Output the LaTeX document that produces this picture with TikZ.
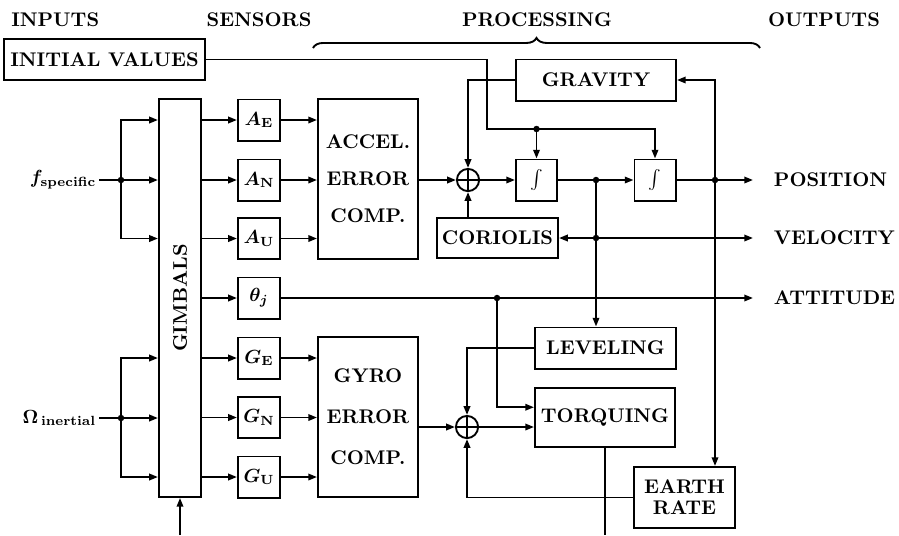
\documentclass[tikz,border=0pt]{standalone}
\usepackage{amsmath}
\usepackage{bm}
\usetikzlibrary{arrows.meta, decorations.pathreplacing}

\begin{document}
\begin{tikzpicture}[x=0.0185cm, y=-0.0185cm, line width=1pt,
    every node/.style={font=\fontsize{10.4pt}{12.5pt}\selectfont\bfseries},
    box/.style={draw, inner sep=0pt, align=center},
    sensor/.style={box, minimum width=0.78cm, minimum height=0.76cm},
    comp/.style={box, minimum width=1.85cm, minimum height=2.96cm},
    integ/.style={box, minimum width=0.76cm, minimum height=0.76cm},
    summer/.style={draw, circle, inner sep=0pt, minimum size=0.41cm,
        path picture={\draw[line width=0.7pt]
            (path picture bounding box.north) -- (path picture bounding box.south)
            (path picture bounding box.west) -- (path picture bounding box.east);}},
    inlabel/.style={anchor=east, inner xsep=1pt},
    outlabel/.style={anchor=west, inner xsep=0.37cm},
    arr/.style={-{Triangle[length=4.6pt, width=3.4pt]}}]

    \useasboundingbox (0,0) rectangle (899,535);

    % Column headings
    \node[anchor=west] (hinputs) at (4,20) {INPUTS};
    \node (hsensors) at (259,20) {SENSORS};
    \node (hproc) at (537,20) {PROCESSING};
    \node (houtputs) at (824,20) {OUTPUTS};
    \draw[decorate, decoration={brace, amplitude=5.3pt}] (313,48) -- (760,48);

    % Inputs and gimbals
    \node[box, minimum width=3.72cm, minimum height=0.76cm] (init) at (104.5,59.5) {INITIAL VALUES};
    \node[box, minimum width=0.78cm, minimum height=7.36cm, label={[rotate=90]center:GIMBALS}] (gimbals) at (180,298) {};
    \node[inlabel] (fspec) at (99,180) {$\bm{f}_{\mathbf{specific}}$};
    \node[inlabel] (omega) at (99,418) {$\mathbf{\Omega}_{\,\mathbf{inertial}}$};
    \coordinate (fsplit) at (121,180);
    \coordinate (osplit) at (121,418);
    \coordinate (gimin) at (180,535);

    % Sensors
    \node[sensor] (AE) at (259,120) {$\bm{A}_{\mathbf{E}}$};
    \node[sensor] (AN) at (259,180) {$\bm{A}_{\mathbf{N}}$};
    \node[sensor] (AU) at (259,238.5) {$\bm{A}_{\mathbf{U}}$};
    \node[sensor] (theta) at (259,298) {$\bm{\theta}_{\bm{j}}$};
    \node[sensor] (GE) at (259,358) {$\bm{G}_{\mathbf{E}}$};
    \node[sensor] (GN) at (259,417.5) {$\bm{G}_{\mathbf{N}}$};
    \node[sensor] (GU) at (259,477) {$\bm{G}_{\mathbf{U}}$};

    % Error compensation
    \node[comp] (accel) at (368,179) {ACCEL.\\[7pt]ERROR\\[7pt]COMP.};
    \node[comp] (gyro) at (368,417) {GYRO\\[9pt]ERROR\\[9pt]COMP.};

    % Navigation processing
    \node[box, minimum width=2.96cm, minimum height=0.76cm] (gravity) at (596,80) {GRAVITY};
    \node[summer] (sum1) at (468,180) {};
    \node[integ] (int1) at (536.5,180) {$\int$};
    \node[integ] (int2) at (655,180) {$\int$};
    \node[box, minimum width=2.24cm, minimum height=0.74cm] (coriolis) at (497.5,238) {CORIOLIS};
    \node[box, minimum width=2.61cm, minimum height=0.76cm] (leveling) at (605.5,348) {LEVELING};
    \node[summer] (sum2) at (467,427) {};
    \node[box, minimum width=2.59cm, minimum height=1.09cm] (torquing) at (605,417.5) {TORQUING};
    \node[box, minimum width=1.87cm, minimum height=1.13cm] (earth) at (684.5,497.5) {EARTH\\[-1.5pt]RATE};
    \coordinate (ivturn) at (487,129);
    \coordinate (vnode) at (596,180);
    \coordinate (pnode) at (715,180);
    \coordinate (vdot) at (596,238);
    \coordinate (adot) at (497,298);
    \coordinate (torqout) at (605,535);

    % Outputs
    \node[outlabel] (position) at (753,180) {POSITION};
    \node[outlabel] (velocity) at (753,238) {VELOCITY};
    \node[outlabel] (attitude) at (753,298) {ATTITUDE};

    % Inputs into gimbals
    \draw (fspec.east) -- (fsplit);
    \draw[arr] (fsplit) -- (fsplit -| gimbals.west);
    \draw[arr] (fsplit) |- (AE -| gimbals.west);
    \draw[arr] (fsplit) |- (AU -| gimbals.west);
    \draw (omega.east) -- (osplit);
    \draw[arr] (osplit) -- (osplit -| gimbals.west);
    \draw[arr] (osplit) |- (GE -| gimbals.west);
    \draw[arr] (osplit) |- (GU -| gimbals.west);
    \draw[arr] (gimin) -- (gimbals.south);

    % Gimbals to sensors to compensation
    \draw[arr] (AE -| gimbals.east) -- (AE.west);
    \draw[arr] (AN -| gimbals.east) -- (AN.west);
    \draw[arr] (AU -| gimbals.east) -- (AU.west);
    \draw[arr] (theta -| gimbals.east) -- (theta.west);
    \draw[arr] (GE -| gimbals.east) -- (GE.west);
    \draw[arr] (GN -| gimbals.east) -- (GN.west);
    \draw[arr] (GU -| gimbals.east) -- (GU.west);
    \draw[arr] (AE.east) -- (AE -| accel.west);
    \draw[arr] (AN.east) -- (AN -| accel.west);
    \draw[arr] (AU.east) -- (AU -| accel.west);
    \draw[arr] (GE.east) -- (GE -| gyro.west);
    \draw[arr] (GN.east) -- (GN -| gyro.west);
    \draw[arr] (GU.east) -- (GU -| gyro.west);

    % Accelerometer channel
    \draw[arr] (init.east) -| (ivturn) -| (int2.north);
    \draw[arr] (int1 |- ivturn) -- (int1.north);
    \draw[arr] (gravity.west) -| (sum1.north);
    \draw[arr] (accel.east |- sum1) -- (sum1.west);
    \draw[arr] (coriolis.north -| sum1) -- (sum1.south);
    \draw[arr] (sum1.east) -- (int1.west);
    \draw[arr] (int1.east) -- (int2.west);
    \draw[arr] (int2.east) -- (position.west);
    \draw[arr] (pnode) |- (gravity.east);
    \draw[arr] (pnode) -- (pnode |- earth.north);
    \draw[arr] (vnode) -- (vnode |- leveling.north);
    \draw[arr] (vdot) -- (coriolis.east);
    \draw[arr] (vdot) -- (velocity.west);

    % Gyro channel
    \draw[arr] (theta.east) -- (attitude.west);
    \draw[arr] (adot) |- ([yshift=0.19cm]torquing.west);
    \draw[arr] (gyro.east |- sum2) -- (sum2.west);
    \draw[arr] (sum2.east) -- (sum2 -| torquing.west);
    \draw[arr] (leveling.west) -| (sum2.north);
    \draw[arr] (earth.west) -| (sum2.south);
    \draw (torquing.south) -- (torqout);

    % Junction dots
    \foreach \j in {fsplit, osplit, vnode, pnode, vdot, adot}
        \fill (\j) circle (1.7pt);
    \fill (int1 |- ivturn) circle (1.7pt);
\end{tikzpicture}
\end{document}
